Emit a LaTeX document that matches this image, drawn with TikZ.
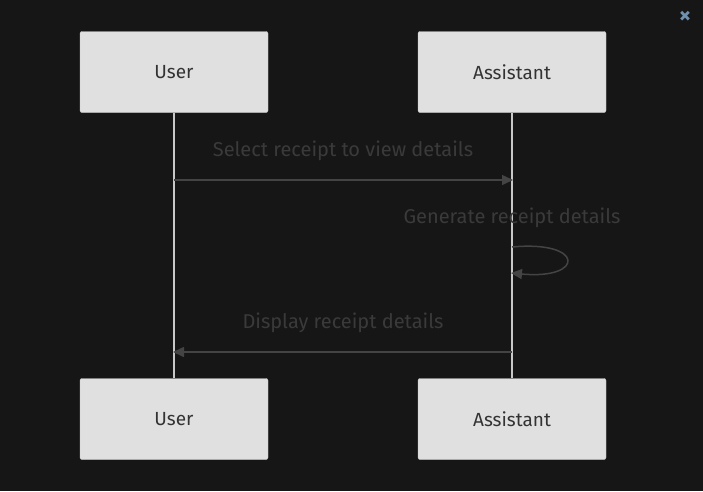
\documentclass[tikz,border=0pt]{standalone}
\usepackage{fontspec}
\setmainfont{Fira Sans}
\usetikzlibrary{arrows.meta}
\definecolor{bg}{HTML}{161616}
\definecolor{boxfill}{HTML}{E0E0E0}
\definecolor{boxline}{HTML}{C8C8C8}
\definecolor{lifel}{HTML}{C8C8C8}
\definecolor{msgline}{HTML}{444444}
\definecolor{msgtext}{HTML}{3A3A3A}
\definecolor{closec}{HTML}{7090B0}
\tikzset{
  actor/.style={draw=boxline, fill=boxfill, rounded corners=2pt, minimum width=188pt, minimum height=81pt, inner sep=0pt, text=black!80, font=\fontsize{19}{22}\selectfont},
  lifeline/.style={draw=lifel, line width=1.6pt},
  msg/.style={draw=msgline, line width=1.5pt, -{Triangle[length=11pt,width=10pt]}},
  msglabel/.style={text=msgtext, font=\fontsize{20}{22}\selectfont, inner sep=0pt}
}
\begin{document}
\begin{tikzpicture}[x=1pt,y=-1pt]
\fill[bg] (0,0) rectangle (703,491);
\useasboundingbox (0,0) rectangle (703,491);
\node[actor] (u1) at (174,72) {User};
\node[actor] (a1) at (512,72) {Assistant};
\node[actor] (u2) at (174,419) {User};
\node[actor] (a2) at (512,419) {Assistant};
\draw[lifeline] (u1.south) -- (u2.north);
\draw[lifeline] (a1.south) -- (a2.north);
\coordinate (m1s) at (174,180);
\coordinate (m1e) at (513,180);
\draw[msg] (m1s) -- (m1e);
\node[msglabel] (l1) at (343,151) {Select receipt to view details};
\node[msglabel] (l2) at (512,218) {Generate receipt details};
\coordinate (s1) at (512,247);
\coordinate (s2) at (511,273);
\draw[msg] (s1) .. controls (585,240) and (585,280) .. (s2);
\coordinate (m3s) at (512,352);
\coordinate (m3e) at (173,352);
\draw[msg] (m3s) -- (m3e);
\node[msglabel] (l3) at (343,323) {Display receipt details};
\node[text=closec, font=\bfseries\fontsize{24}{24}\selectfont, inner sep=0pt] (close) at (685,17) {\texttimes};
\end{tikzpicture}
\end{document}
